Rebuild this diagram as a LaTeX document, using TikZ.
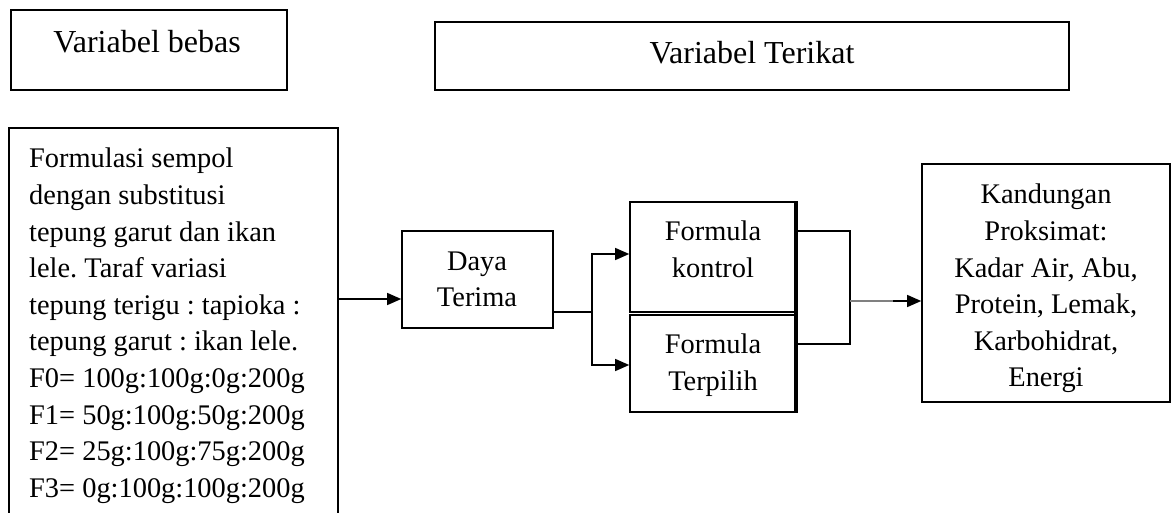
\documentclass[tikz,border=0pt]{standalone}
\usepackage{fontspec}
\setmainfont{Liberation Serif}
\usetikzlibrary{arrows.meta,calc}
\frenchspacing
\begin{document}
\begin{tikzpicture}[x=1pt,y=-1pt,
  box/.style={draw,line width=1.6pt,inner sep=0pt},
  txt/.style={inner sep=0pt,font=\fontsize{28.4}{36.6}\selectfont},
  ttl/.style={inner sep=0pt,font=\fontsize{32}{38}\selectfont},
  conn/.style={line width=1.3pt},
  tip/.style={-{Triangle[length=14pt,width=12pt]}}]
\useasboundingbox (0,0) rectangle (1173,512);
\fill[white] (0,0) rectangle (1173,512);
% boxes
\begin{scope}
\clip (0,0) rectangle (1173,512);
\draw[box] (9,128) rectangle (338,540);
\end{scope}
\coordinate (big) at (338,299);
\node[box,minimum width=276pt,minimum height=80pt] (vb) at (149,50) {};
\node[box,minimum width=634pt,minimum height=68pt] (vt) at (752,56) {};
\node[box,minimum width=151pt,minimum height=97pt] (dt) at (477.5,279.5) {};
\node[box,minimum width=167pt,minimum height=110pt] (fk) at (713.5,257) {};
\node[box,minimum width=167pt,minimum height=97pt] (ft) at (713.5,363.5) {};
\draw[line width=3.5pt] (796,202) -- (796,412);
\node[box,minimum width=248pt,minimum height=238pt] (kp) at (1046,283) {};
% texts
\node[ttl,anchor=base] (tvb) at (147,52) {Variabel bebas};
\node[ttl,anchor=base] (tvt) at (752,63) {Variabel Terikat};
\node[txt,anchor=north west,align=left] (tbig) at (29,148) {Formulasi sempol\\dengan substitusi\\tepung garut dan ikan\\lele. Taraf variasi\\tepung terigu : tapioka :\\tepung garut : ikan lele.\\F0= 100g:100g:0g:200g\\F1= 50g:100g:50g:200g\\F2= 25g:100g:75g:200g\\F3= 0g:100g:100g:200g};
\node[txt,anchor=north,align=center] (tdt) at (477,251.5) {Daya\\Terima};
\node[txt,anchor=north,align=center] (tfk) at (713,221) {Formula\\kontrol};
\node[txt,anchor=north,align=center] (tft) at (713,334) {Formula\\Terpilih};
\node[txt,anchor=north,align=center] (tkp) at (1046,184) {Kandungan\\Proksimat:\\Kadar Air, Abu,\\Protein, Lemak,\\Karbohidrat,\\Energi};
% connectors
\draw[conn,tip] (big) -- (dt.west |- big);
\coordinate (split) at (592,312);
\draw[conn] (dt.east |- split) -- (split);
\draw[conn,tip] (split) |- (fk.west |- 0,254);
\draw[conn,tip] (split) |- (ft.west |- 0,365);
\coordinate (br) at (850,301);
\draw[line width=1.6pt] (797,231) -| (br) |- (797,344);
\draw[line width=1.6pt,gray] (br) -- (895,301);
\draw[line width=1.2pt,tip] (893,301) -- (kp.west |- br) ;
\end{tikzpicture}
\end{document}
